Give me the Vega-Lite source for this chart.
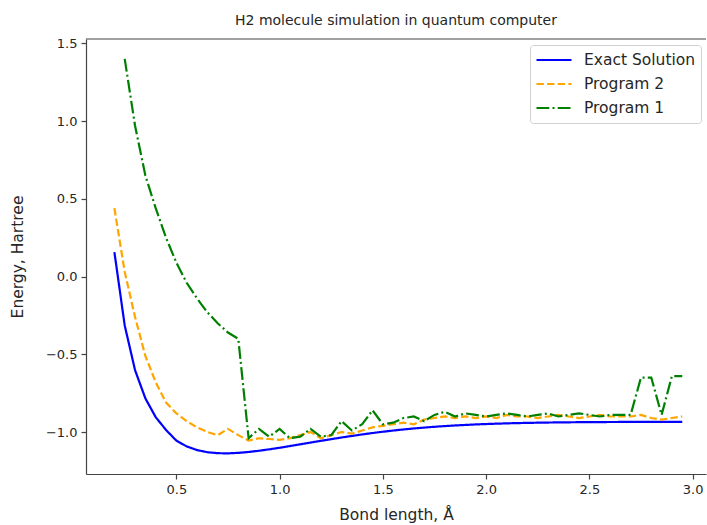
{
  "$schema": "https://vega.github.io/schema/vega-lite/v6.json",
  "autosize": {"type": "none"},
  "width": 620,
  "height": 435,
  "padding": {"left": 86, "top": 39, "right": 1, "bottom": 51},
  "background": "white",
  "title": {"text": "H2 molecule simulation in quantum computer", "font": "DejaVu Sans", "fontSize": 14, "fontWeight": "normal", "color": "#262626", "offset": 9, "anchor": "middle"},
  "config": {
    "view": {"stroke": null},
    "axis": {"grid": false, "domainColor": "#444", "tickColor": "#444", "labelColor": "#262626", "titleColor": "#262626", "labelFont": "DejaVu Sans", "labelFontSize": 13, "titleFont": "DejaVu Sans", "titleFontSize": 15.5, "titleFontWeight": "normal", "tickSize": 5, "labelPadding": 4, "domainWidth": 1.2, "tickWidth": 1.2}
  },
  "datasets": {
    "curves": [
      {"x": 0.2, "E": 0.1574, "s": "Exact Solution"},
      {"x": 0.25, "E": -0.3146, "s": "Exact Solution"},
      {"x": 0.3, "E": -0.6018, "s": "Exact Solution"},
      {"x": 0.35, "E": -0.7835, "s": "Exact Solution"},
      {"x": 0.4, "E": -0.9043, "s": "Exact Solution"},
      {"x": 0.45, "E": -0.9868, "s": "Exact Solution"},
      {"x": 0.5, "E": -1.0551, "s": "Exact Solution"},
      {"x": 0.55, "E": -1.0926, "s": "Exact Solution"},
      {"x": 0.6, "E": -1.1162, "s": "Exact Solution"},
      {"x": 0.65, "E": -1.1298, "s": "Exact Solution"},
      {"x": 0.7, "E": -1.1362, "s": "Exact Solution"},
      {"x": 0.75, "E": -1.1373, "s": "Exact Solution"},
      {"x": 0.8, "E": -1.1341, "s": "Exact Solution"},
      {"x": 0.85, "E": -1.1284, "s": "Exact Solution"},
      {"x": 0.9, "E": -1.1205, "s": "Exact Solution"},
      {"x": 0.95, "E": -1.1113, "s": "Exact Solution"},
      {"x": 1.0, "E": -1.1012, "s": "Exact Solution"},
      {"x": 1.05, "E": -1.0902, "s": "Exact Solution"},
      {"x": 1.1, "E": -1.0792, "s": "Exact Solution"},
      {"x": 1.15, "E": -1.0679, "s": "Exact Solution"},
      {"x": 1.2, "E": -1.0567, "s": "Exact Solution"},
      {"x": 1.25, "E": -1.0459, "s": "Exact Solution"},
      {"x": 1.3, "E": -1.0352, "s": "Exact Solution"},
      {"x": 1.35, "E": -1.0252, "s": "Exact Solution"},
      {"x": 1.4, "E": -1.0155, "s": "Exact Solution"},
      {"x": 1.45, "E": -1.0065, "s": "Exact Solution"},
      {"x": 1.5, "E": -0.9982, "s": "Exact Solution"},
      {"x": 1.55, "E": -0.9904, "s": "Exact Solution"},
      {"x": 1.6, "E": -0.9834, "s": "Exact Solution"},
      {"x": 1.65, "E": -0.9771, "s": "Exact Solution"},
      {"x": 1.7, "E": -0.9714, "s": "Exact Solution"},
      {"x": 1.75, "E": -0.9663, "s": "Exact Solution"},
      {"x": 1.8, "E": -0.9618, "s": "Exact Solution"},
      {"x": 1.85, "E": -0.9578, "s": "Exact Solution"},
      {"x": 1.9, "E": -0.9543, "s": "Exact Solution"},
      {"x": 1.95, "E": -0.9512, "s": "Exact Solution"},
      {"x": 2.0, "E": -0.9486, "s": "Exact Solution"},
      {"x": 2.05, "E": -0.9463, "s": "Exact Solution"},
      {"x": 2.1, "E": -0.9443, "s": "Exact Solution"},
      {"x": 2.15, "E": -0.9426, "s": "Exact Solution"},
      {"x": 2.2, "E": -0.9412, "s": "Exact Solution"},
      {"x": 2.25, "E": -0.94, "s": "Exact Solution"},
      {"x": 2.3, "E": -0.939, "s": "Exact Solution"},
      {"x": 2.35, "E": -0.9381, "s": "Exact Solution"},
      {"x": 2.4, "E": -0.9374, "s": "Exact Solution"},
      {"x": 2.45, "E": -0.9368, "s": "Exact Solution"},
      {"x": 2.5, "E": -0.9363, "s": "Exact Solution"},
      {"x": 2.55, "E": -0.9359, "s": "Exact Solution"},
      {"x": 2.6, "E": -0.9356, "s": "Exact Solution"},
      {"x": 2.65, "E": -0.9353, "s": "Exact Solution"},
      {"x": 2.7, "E": -0.9351, "s": "Exact Solution"},
      {"x": 2.75, "E": -0.9349, "s": "Exact Solution"},
      {"x": 2.8, "E": -0.9347, "s": "Exact Solution"},
      {"x": 2.85, "E": -0.9346, "s": "Exact Solution"},
      {"x": 2.9, "E": -0.9345, "s": "Exact Solution"},
      {"x": 2.95, "E": -0.9344, "s": "Exact Solution"},

      {"x": 0.2, "E": 0.44, "s": "Program 2"},
      {"x": 0.25, "E": 0.03, "s": "Program 2"},
      {"x": 0.3, "E": -0.26, "s": "Program 2"},
      {"x": 0.35, "E": -0.51, "s": "Program 2"},
      {"x": 0.4, "E": -0.68, "s": "Program 2"},
      {"x": 0.45, "E": -0.81, "s": "Program 2"},
      {"x": 0.5, "E": -0.88, "s": "Program 2"},
      {"x": 0.55, "E": -0.93, "s": "Program 2"},
      {"x": 0.6, "E": -0.97, "s": "Program 2"},
      {"x": 0.65, "E": -1.0, "s": "Program 2"},
      {"x": 0.7, "E": -1.02, "s": "Program 2"},
      {"x": 0.75, "E": -0.98, "s": "Program 2"},
      {"x": 0.8, "E": -1.02, "s": "Program 2"},
      {"x": 0.85, "E": -1.055, "s": "Program 2"},
      {"x": 0.9, "E": -1.04, "s": "Program 2"},
      {"x": 0.95, "E": -1.045, "s": "Program 2"},
      {"x": 1.0, "E": -1.05, "s": "Program 2"},
      {"x": 1.05, "E": -1.04, "s": "Program 2"},
      {"x": 1.1, "E": -1.02, "s": "Program 2"},
      {"x": 1.15, "E": -1.0, "s": "Program 2"},
      {"x": 1.2, "E": -1.04, "s": "Program 2"},
      {"x": 1.25, "E": -1.02, "s": "Program 2"},
      {"x": 1.3, "E": -1.0, "s": "Program 2"},
      {"x": 1.35, "E": -1.01, "s": "Program 2"},
      {"x": 1.4, "E": -0.99, "s": "Program 2"},
      {"x": 1.45, "E": -0.97, "s": "Program 2"},
      {"x": 1.5, "E": -0.96, "s": "Program 2"},
      {"x": 1.55, "E": -0.95, "s": "Program 2"},
      {"x": 1.6, "E": -0.94, "s": "Program 2"},
      {"x": 1.65, "E": -0.95, "s": "Program 2"},
      {"x": 1.7, "E": -0.92, "s": "Program 2"},
      {"x": 1.75, "E": -0.91, "s": "Program 2"},
      {"x": 1.8, "E": -0.9, "s": "Program 2"},
      {"x": 1.85, "E": -0.91, "s": "Program 2"},
      {"x": 1.9, "E": -0.9, "s": "Program 2"},
      {"x": 1.95, "E": -0.91, "s": "Program 2"},
      {"x": 2.0, "E": -0.9, "s": "Program 2"},
      {"x": 2.05, "E": -0.91, "s": "Program 2"},
      {"x": 2.1, "E": -0.89, "s": "Program 2"},
      {"x": 2.15, "E": -0.9, "s": "Program 2"},
      {"x": 2.2, "E": -0.9, "s": "Program 2"},
      {"x": 2.25, "E": -0.91, "s": "Program 2"},
      {"x": 2.3, "E": -0.9, "s": "Program 2"},
      {"x": 2.35, "E": -0.89, "s": "Program 2"},
      {"x": 2.4, "E": -0.9, "s": "Program 2"},
      {"x": 2.45, "E": -0.91, "s": "Program 2"},
      {"x": 2.5, "E": -0.9, "s": "Program 2"},
      {"x": 2.55, "E": -0.89, "s": "Program 2"},
      {"x": 2.6, "E": -0.9, "s": "Program 2"},
      {"x": 2.65, "E": -0.9, "s": "Program 2"},
      {"x": 2.7, "E": -0.9, "s": "Program 2"},
      {"x": 2.75, "E": -0.89, "s": "Program 2"},
      {"x": 2.8, "E": -0.91, "s": "Program 2"},
      {"x": 2.85, "E": -0.92, "s": "Program 2"},
      {"x": 2.9, "E": -0.91, "s": "Program 2"},
      {"x": 2.95, "E": -0.9, "s": "Program 2"},

      {"x": 0.25, "E": 1.4, "s": "Program 1"},
      {"x": 0.3, "E": 0.97, "s": "Program 1"},
      {"x": 0.35, "E": 0.65, "s": "Program 1"},
      {"x": 0.4, "E": 0.44, "s": "Program 1"},
      {"x": 0.45, "E": 0.25, "s": "Program 1"},
      {"x": 0.5, "E": 0.09, "s": "Program 1"},
      {"x": 0.55, "E": -0.04, "s": "Program 1"},
      {"x": 0.6, "E": -0.14, "s": "Program 1"},
      {"x": 0.65, "E": -0.23, "s": "Program 1"},
      {"x": 0.7, "E": -0.3, "s": "Program 1"},
      {"x": 0.75, "E": -0.36, "s": "Program 1"},
      {"x": 0.8, "E": -0.4, "s": "Program 1"},
      {"x": 0.85, "E": -1.04, "s": "Program 1"},
      {"x": 0.9, "E": -0.98, "s": "Program 1"},
      {"x": 0.95, "E": -1.03, "s": "Program 1"},
      {"x": 1.0, "E": -0.98, "s": "Program 1"},
      {"x": 1.05, "E": -1.04, "s": "Program 1"},
      {"x": 1.1, "E": -1.03, "s": "Program 1"},
      {"x": 1.15, "E": -0.98, "s": "Program 1"},
      {"x": 1.2, "E": -1.03, "s": "Program 1"},
      {"x": 1.25, "E": -1.02, "s": "Program 1"},
      {"x": 1.3, "E": -0.93, "s": "Program 1"},
      {"x": 1.35, "E": -0.99, "s": "Program 1"},
      {"x": 1.4, "E": -0.95, "s": "Program 1"},
      {"x": 1.45, "E": -0.86, "s": "Program 1"},
      {"x": 1.5, "E": -0.95, "s": "Program 1"},
      {"x": 1.55, "E": -0.94, "s": "Program 1"},
      {"x": 1.6, "E": -0.91, "s": "Program 1"},
      {"x": 1.65, "E": -0.9, "s": "Program 1"},
      {"x": 1.7, "E": -0.93, "s": "Program 1"},
      {"x": 1.75, "E": -0.89, "s": "Program 1"},
      {"x": 1.8, "E": -0.87, "s": "Program 1"},
      {"x": 1.85, "E": -0.9, "s": "Program 1"},
      {"x": 1.9, "E": -0.88, "s": "Program 1"},
      {"x": 1.95, "E": -0.89, "s": "Program 1"},
      {"x": 2.0, "E": -0.9, "s": "Program 1"},
      {"x": 2.05, "E": -0.89, "s": "Program 1"},
      {"x": 2.1, "E": -0.88, "s": "Program 1"},
      {"x": 2.15, "E": -0.89, "s": "Program 1"},
      {"x": 2.2, "E": -0.9, "s": "Program 1"},
      {"x": 2.25, "E": -0.89, "s": "Program 1"},
      {"x": 2.3, "E": -0.88, "s": "Program 1"},
      {"x": 2.35, "E": -0.9, "s": "Program 1"},
      {"x": 2.4, "E": -0.89, "s": "Program 1"},
      {"x": 2.45, "E": -0.88, "s": "Program 1"},
      {"x": 2.5, "E": -0.89, "s": "Program 1"},
      {"x": 2.55, "E": -0.9, "s": "Program 1"},
      {"x": 2.6, "E": -0.89, "s": "Program 1"},
      {"x": 2.65, "E": -0.89, "s": "Program 1"},
      {"x": 2.7, "E": -0.89, "s": "Program 1"},
      {"x": 2.75, "E": -0.65, "s": "Program 1"},
      {"x": 2.8, "E": -0.65, "s": "Program 1"},
      {"x": 2.85, "E": -0.89, "s": "Program 1"},
      {"x": 2.9, "E": -0.64, "s": "Program 1"},
      {"x": 2.95, "E": -0.64, "s": "Program 1"}
    ],
    "frame": [{"top": 1.528}]
  },
  "layer": [
    {
      "data": {"name": "curves"},
      "mark": {"type": "line", "strokeWidth": 2.2, "clip": true},
      "encoding": {
        "x": {"field": "x", "type": "quantitative", "scale": {"domain": [0.0625, 3.065], "nice": false, "zero": false},
              "axis": {"title": "Bond length, Å", "values": [0.5, 1.0, 1.5, 2.0, 2.5, 3.0], "format": ".1f", "titlePadding": 11}},
        "y": {"field": "E", "type": "quantitative", "scale": {"domain": [-1.27, 1.528], "nice": false, "zero": false},
              "axis": {"title": "Energy, Hartree", "values": [-1.0, -0.5, 0.0, 0.5, 1.0, 1.5], "format": ".1f", "titlePadding": 20}},
        "color": {"field": "s", "type": "nominal", "title": null,
                  "scale": {"domain": ["Exact Solution", "Program 2", "Program 1"], "range": ["#0000ff", "#ffa500", "#008000"]},
                  "legend": {"orient": "none", "legendX": 444, "legendY": 6, "symbolType": "stroke", "symbolStrokeWidth": 2.2, "symbolSize": 1225,
                             "labelFont": "DejaVu Sans", "labelFontSize": 15.5, "labelColor": "#262626", "fillColor": "white", "strokeColor": "#d0d0d0",
                             "padding": 5, "cornerRadius": 3, "rowPadding": 4, "clipHeight": 20, "labelOffset": 11}},
        "strokeDash": {"field": "s", "type": "nominal", "title": null,
                       "scale": {"domain": ["Exact Solution", "Program 2", "Program 1"], "range": [[1, 0], [7.4, 3.2], [12.8, 3.2, 2, 3.2]]}},
        "order": {"field": "x", "type": "quantitative"}
      }
    },
    {
      "data": {"name": "frame"},
      "mark": {"type": "rule", "color": "#444", "strokeWidth": 1.2},
      "encoding": {"y": {"field": "top", "type": "quantitative"}}
    }
  ]
}
